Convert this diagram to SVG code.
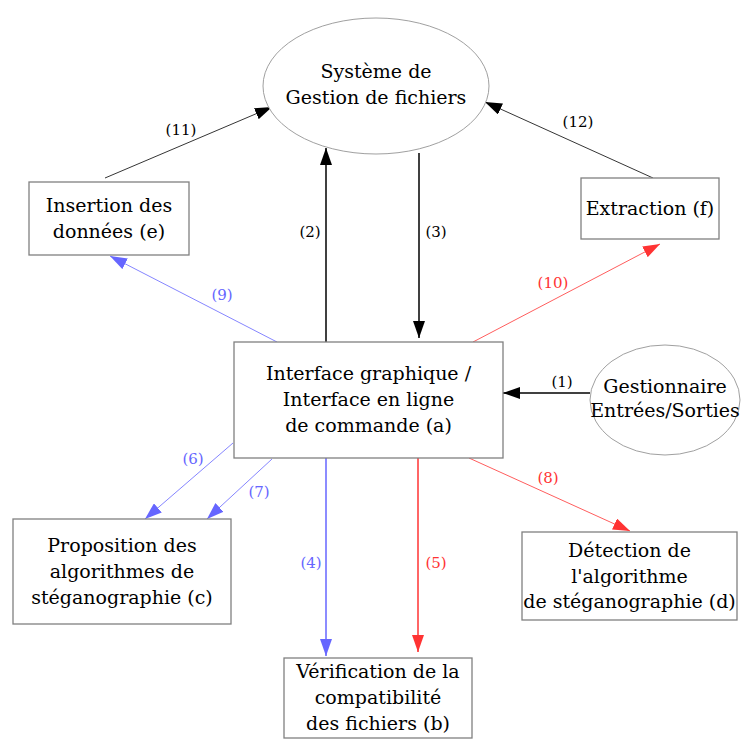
<svg xmlns="http://www.w3.org/2000/svg" width="754" height="752" viewBox="0 0 754 752">
<defs>
<style>
text{font-family:"DejaVu Serif","Liberation Serif",serif;fill:#000}
.n{font-size:19px;text-anchor:middle}
.l{font-size:15px;text-anchor:middle}
.box{fill:#fff;stroke:#808080;stroke-width:1.3}
.ell{fill:#fff;stroke:#a0a0a0;stroke-width:1}
.k{stroke:#000;fill:none}
.b{stroke:#6666ff;fill:none}
.r{stroke:#ff3333;fill:none}
.lb{fill:#6666ff}
.lr{fill:#ff3333}
</style>
<marker id="ak" markerUnits="userSpaceOnUse" markerWidth="18" markerHeight="12" refX="17" refY="6" orient="auto"><path d="M0,0 L17,6 L0,12 z" fill="#000"/></marker>
<marker id="ab" markerUnits="userSpaceOnUse" markerWidth="18" markerHeight="12" refX="17" refY="6" orient="auto"><path d="M0,0 L17,6 L0,12 z" fill="#6666ff"/></marker>
<marker id="ar" markerUnits="userSpaceOnUse" markerWidth="18" markerHeight="12" refX="17" refY="6" orient="auto"><path d="M0,0 L17,6 L0,12 z" fill="#ff3333"/></marker>
</defs>
<rect width="754" height="752" fill="#fff"/>
<g id="connectors">
<line class="k" x1="590" y1="393" x2="503" y2="393" stroke-width="1.5" marker-end="url(#ak)"/>
<line class="k" x1="326" y1="342" x2="326" y2="148" stroke-width="1.5" marker-end="url(#ak)"/>
<line class="k" x1="419" y1="153" x2="419" y2="338" stroke-width="1.5" marker-end="url(#ak)"/>
<line class="b" x1="326" y1="458" x2="326" y2="656" stroke-width="1.5" marker-end="url(#ab)"/>
<line class="r" x1="418" y1="458" x2="418" y2="652" stroke-width="1.5" marker-end="url(#ar)"/>
<line class="b" x1="233" y1="443" x2="145" y2="519" stroke-width="0.8" marker-end="url(#ab)"/>
<line class="b" x1="272" y1="459" x2="207" y2="519" stroke-width="0.8" marker-end="url(#ab)"/>
<line class="r" x1="469" y1="458" x2="630" y2="531" stroke-width="0.8" marker-end="url(#ar)"/>
<line class="b" x1="277" y1="342" x2="110" y2="256" stroke-width="0.8" marker-end="url(#ab)"/>
<line class="r" x1="473" y1="342" x2="660" y2="244" stroke-width="0.8" marker-end="url(#ar)"/>
<line class="k" x1="105" y1="178" x2="272" y2="107" stroke-width="0.8" marker-end="url(#ak)"/>
<line class="k" x1="653" y1="178" x2="485" y2="102" stroke-width="0.8" marker-end="url(#ak)"/>
<text class="l" x="181" y="135">(11)</text>
<text class="l" x="310" y="237">(2)</text>
<text class="l lb" x="222" y="300">(9)</text>
<text class="l" x="436" y="237">(3)</text>
<text class="l" x="578" y="127">(12)</text>
<text class="l lr" x="553" y="288">(10)</text>
<text class="l" x="562" y="387">(1)</text>
<text class="l lb" x="193" y="464">(6)</text>
<text class="l lb" x="259" y="497">(7)</text>
<text class="l lb" x="311" y="568">(4)</text>
<text class="l lr" x="436" y="568">(5)</text>
<text class="l lr" x="548" y="483">(8)</text>
</g>
<g id="sgf">
<ellipse class="ell" cx="376" cy="86" rx="113" ry="68"/>
<text class="n" x="376" y="78">Système de</text>
<text class="n" x="376" y="104">Gestion de fichiers</text>
</g>
<g id="a">
<rect class="box" x="234" y="342" width="269" height="116"/>
<text class="n" x="368.5" y="380">Interface graphique /</text>
<text class="n" x="368.5" y="406">Interface en ligne</text>
<text class="n" x="368.5" y="432">de commande (a)</text>
</g>
<g id="io">
<ellipse class="ell" cx="665" cy="400" rx="75" ry="55"/>
<text class="n" x="665" y="393">Gestionnaire</text>
<text class="n" x="665" y="417">Entrées/Sorties</text>
</g>
<g id="e">
<rect class="box" x="29" y="182" width="160" height="73"/>
<text class="n" x="109" y="212">Insertion des</text>
<text class="n" x="109" y="238">données (e)</text>
</g>
<g id="f">
<rect class="box" x="581" y="178" width="138" height="61"/>
<text class="n" x="650" y="215">Extraction (f)</text>
</g>
<g id="c">
<rect class="box" x="13" y="519" width="218" height="105"/>
<text class="n" x="122" y="552">Proposition des</text>
<text class="n" x="122" y="578">algorithmes de</text>
<text class="n" x="122" y="604">stéganographie (c)</text>
</g>
<g id="b">
<rect class="box" x="284" y="658" width="188" height="80"/>
<text class="n" x="378" y="678">Vérification de la</text>
<text class="n" x="378" y="704">compatibilité</text>
<text class="n" x="378" y="730">des fichiers (b)</text>
</g>
<g id="d">
<rect class="box" x="522" y="532" width="215" height="88"/>
<text class="n" x="629.5" y="557">Détection de</text>
<text class="n" x="629.5" y="583">l'algorithme</text>
<text class="n" x="629.5" y="608">de stéganographie (d)</text>
</g>
</svg>
